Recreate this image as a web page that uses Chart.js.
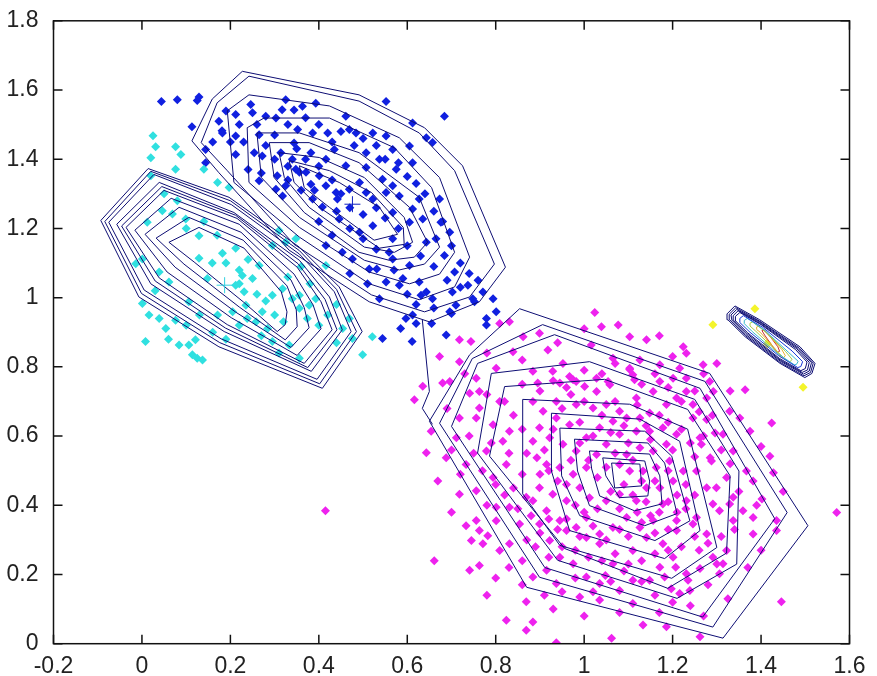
<!DOCTYPE html>
<html><head><meta charset="utf-8">
<script src="https://cdn.jsdelivr.net/npm/chart.js@4.4.0/dist/chart.umd.min.js"></script>
<style>html,body{margin:0;padding:0;background:#fff;overflow:hidden}canvas{display:block}</style>
</head><body>
<canvas id="c" width="877" height="676"></canvas>
<script>
const xTickValues = [-0.2,0,0.2,0.4,0.6,0.8,1,1.2,1.4,1.6];
const xTickLabels = ['-0.2','0','0.2','0.4','0.6','0.8','1','1.2','1.4','1.6'];
const yTickValues = [0,0.2,0.4,0.6,0.8,1,1.2,1.4,1.6,1.8];
const yTickLabels = ['0','0.2','0.4','0.6','0.8','1','1.2','1.4','1.6','1.8'];

const cyanPts = [[0.025,1.468],[0.031,1.436],[0.020,1.404],[0.076,1.436],[0.088,1.414],[0.076,1.371],[0.020,1.352],[0.140,1.371],[0.171,1.333],[0.197,1.318],[0.046,1.251],[0.012,1.218],[0.069,1.242],[0.129,1.114],[0.182,1.128],[0.212,1.143],[0.159,1.100],[0.148,1.055],[0.220,1.040],[0.231,1.017],[0.235,0.978],[0.205,0.959],[0.238,0.940],[0.258,0.930],[0.272,0.959],[0.284,0.911],[0.295,1.007],[0.250,1.055],[0.265,1.093],[0.340,0.997],[0.356,0.969],[0.374,0.940],[0.393,0.997],[0.416,1.093],[0.454,0.911],[0.476,0.882],[0.469,0.940],[0.356,0.825],[0.333,0.863],[0.295,0.873],[0.001,0.983],[0.016,0.950],[0.039,0.940],[0.054,0.911],[0.008,0.873],[0.084,0.863],[0.106,0.863],[0.121,0.878],[0.114,0.835],[0.137,0.820],[0.125,0.825],[0.076,0.935],[0.295,1.151],[0.325,1.160],[0.348,1.170],[0.039,1.074],[0.061,1.045],[0.106,0.988],[0.171,0.950],[-0.014,1.098],[0.001,1.112],[0.129,1.179],[0.099,1.227],[0.227,1.064],[0.318,1.026],[0.356,1.007],[0.378,0.978],[0.521,0.887],[0.499,0.835],[0.310,1.194],[0.212,1.036],
[0.05,1.30],[0.08,1.28],[0.10,1.20],[0.14,1.22],[0.17,1.18],[0.19,1.10],[0.22,1.08],[0.24,1.11],[0.26,1.01],[0.28,0.99],[0.30,0.95],[0.32,0.93],[0.33,1.06],[0.36,1.09],[0.38,1.04],[0.40,0.92],[0.42,0.95],[0.44,0.98],[0.16,0.90],[0.19,0.88],[0.22,0.92],[0.13,0.95],[0.10,0.92],[0.06,0.88],[0.03,1.02],[0.44,0.87],[0.27,0.89],[0.31,0.84]];

const bluePts = [[0.044,1.567],[0.080,1.572],[0.125,1.570],[0.129,1.580],[0.113,1.494],[0.144,1.428],[0.144,1.390],[0.174,1.510],[0.190,1.539],[0.212,1.529],[0.246,1.558],[0.250,1.534],[0.212,1.467],[0.212,1.414],[0.181,1.482],[0.280,1.524],[0.303,1.519],[0.317,1.543],[0.325,1.572],[0.344,1.542],[0.182,1.476],[0.363,1.553],[0.393,1.562],[0.265,1.471],[0.254,1.419],[0.272,1.409],[0.265,1.338],[0.306,1.352],[0.314,1.419],[0.352,1.486],[0.386,1.476],[0.344,1.447],[0.382,1.419],[0.340,1.400],[0.348,1.371],[0.371,1.362],[0.382,1.328],[0.420,1.476],[0.435,1.428],[0.416,1.400],[0.461,1.381],[0.469,1.486],[0.484,1.476],[0.461,1.524],[0.507,1.419],[0.522,1.476],[0.537,1.400],[0.507,1.376],[0.492,1.333],[0.522,1.285],[0.439,1.304],[0.416,1.323],[0.469,1.313],[0.442,1.285],[0.408,1.262],[0.386,1.285],[0.318,1.294],[0.303,1.313],[0.325,1.323],[0.552,1.567],[0.612,1.505],[0.684,1.524],[0.643,1.462],[0.657,1.448],[0.605,1.438],[0.567,1.428],[0.552,1.467],[0.612,1.390],[0.575,1.371],[0.544,1.342],[0.567,1.323],[0.627,1.285],[0.635,1.227],[0.605,1.218],[0.665,1.170],[0.643,1.160],[0.567,1.246],[0.522,1.208],[0.492,1.189],[0.446,1.227],[0.416,1.151],[0.453,1.131],[0.476,1.112],[0.514,1.083],[0.552,1.045],[0.590,1.055],[0.627,1.045],[0.643,1.016],[0.657,0.997],[0.702,1.016],[0.710,0.978],[0.748,0.997],[0.771,1.016],[0.794,0.997],[0.801,0.959],[0.779,0.940],[0.696,0.959],[0.612,0.950],[0.597,0.940],[0.620,0.925],[0.688,0.892],[0.544,0.882],[0.582,1.036],[0.737,1.036],[0.684,1.122],[0.707,1.074],[0.356,1.362],[0.401,1.352],[0.507,1.304],[0.552,1.304],[0.582,1.294],[0.612,1.256],[0.567,1.170],[0.605,1.093],[0.567,1.112],[0.673,1.285],[0.752,0.988],[0.779,0.921],[0.700,0.954],[0.631,1.007],[0.537,0.997],[0.585,0.911],[0.559,1.131],[0.531,1.083],[0.676,1.218],[0.696,1.189],[0.611,0.873],[0.655,0.925],
[0.30,1.47],[0.33,1.50],[0.37,1.52],[0.40,1.50],[0.43,1.45],[0.45,1.48],[0.48,1.44],[0.50,1.46],[0.53,1.44],[0.55,1.40],[0.58,1.39],[0.60,1.35],[0.62,1.33],[0.64,1.30],[0.66,1.25],[0.68,1.22],[0.70,1.15],[0.72,1.10],[0.74,1.07],[0.76,1.05],[0.72,1.03],[0.69,1.05],[0.66,1.09],[0.63,1.12],[0.60,1.15],[0.58,1.20],[0.55,1.23],[0.53,1.26],[0.50,1.24],[0.47,1.26],[0.45,1.30],[0.43,1.34],[0.40,1.38],[0.37,1.40],[0.35,1.43],[0.33,1.38],[0.30,1.40],[0.28,1.44],[0.26,1.50],[0.23,1.45],[0.24,1.37],[0.27,1.36],[0.33,1.34],[0.36,1.31],[0.39,1.31],[0.44,1.25],[0.47,1.20],[0.50,1.17],[0.53,1.14],[0.57,1.08],[0.60,1.01],[0.62,0.98],[0.66,0.97],[0.51,1.04],[0.47,1.07],[0.43,1.18],[0.40,1.22],[0.20,1.45],[0.22,1.50],[0.16,1.45]];

const magentaPts = [[1.024,0.957],[1.039,0.916],[1.077,0.921],[1.103,0.887],[1.141,0.878],[0.809,0.925],[0.831,0.930],[0.718,0.878],[0.744,0.873],[0.899,0.897],[0.918,0.849],[0.862,0.887],[1.224,0.858],[1.231,0.839],[1.269,0.806],[1.126,0.820],[1.103,0.796],[1.110,0.777],[0.952,0.810],[0.967,0.772],[0.982,0.758],[1.016,0.863],[1.054,0.758],[0.673,0.830],[0.680,0.753],[0.696,0.758],[0.635,0.744],[0.616,0.705],[0.718,0.815],[0.763,0.729],[0.741,0.724],[0.718,0.652],[0.756,0.652],[0.654,0.614],[0.643,0.552],[0.669,0.470],[0.718,0.432],[0.733,0.341],[0.745,0.298],[0.763,0.327],[0.782,0.312],[0.801,0.355],[0.661,0.240],[0.741,0.212],[0.763,0.226],[0.869,0.121],[0.824,0.068],[0.884,0.063],[0.869,0.039],[0.937,0.003],[1.062,0.016],[1.133,0.054],[1.186,0.049],[1.262,0.020],[1.325,0.130],[1.446,0.121],[1.571,0.379],[1.364,0.734],[1.424,0.638],[1.420,0.542],[1.428,0.494],[1.402,0.418],[1.435,0.356],[1.435,0.327],[1.382,0.317],[1.337,0.356],[1.359,0.384],[1.329,0.404],[1.299,0.451],[1.367,0.499],[1.382,0.470],[1.337,0.557],[1.314,0.605],[1.292,0.729],[1.277,0.710],[1.246,0.652],[1.209,0.710],[1.231,0.767],
[1.207,0.221],[1.262,0.217],[1.314,0.231],[1.148,0.183],[1.182,0.193],[1.235,0.183],[1.197,0.159],[1.216,0.145],[1.110,0.116],[1.048,0.197],
[0.895,0.753],[0.945,0.753],[0.975,0.763],[1.001,0.743],[1.028,0.729],[1.058,0.748],[1.103,0.792],[1.114,0.763],[1.148,0.667],[1.186,0.691],[1.216,0.796],[1.231,0.729],[1.246,0.691],[1.284,0.758],[1.277,0.648],[1.296,0.609],[1.265,0.576],[1.288,0.528],[1.254,0.499],[1.277,0.451],[1.231,0.413],[1.254,0.365],[1.209,0.356],[1.178,0.404],[1.156,0.356],[1.126,0.336],[1.096,0.365],[1.065,0.336],[1.035,0.317],[1.005,0.365],[0.982,0.336],[0.945,0.356],[0.915,0.384],[0.884,0.413],[0.899,0.451],[0.929,0.432],[0.960,0.413],[0.990,0.451],[1.012,0.422],[1.050,0.413],[1.080,0.432],[1.118,0.413],[1.141,0.451],[1.171,0.451],[1.201,0.470],[1.224,0.499],[1.193,0.528],[1.163,0.509],[1.133,0.499],[1.103,0.499],[1.080,0.518],[1.096,0.547],[1.126,0.566],[1.156,0.557],[1.186,0.576],[1.209,0.605],[1.178,0.624],[1.148,0.614],[1.118,0.614],[1.080,0.605],[1.050,0.576],[1.028,0.547],[1.005,0.509],[0.975,0.490],[0.945,0.509],[0.915,0.518],[0.893,0.537],[0.884,0.585],[0.899,0.624],[0.922,0.595],[0.952,0.576],[0.982,0.557],[1.005,0.595],[1.035,0.624],[1.065,0.643],[1.096,0.652],[1.126,0.652],[0.967,0.633],[0.937,0.652],[0.907,0.672],[0.884,0.700],[0.937,0.700],[0.982,0.691],[1.020,0.681],[1.050,0.691],[1.080,0.672],[1.028,0.767],[1.118,0.710],[1.171,0.758],[1.277,0.317],[1.291,0.404],
[0.801,0.394],[0.831,0.394],[0.854,0.346],[0.831,0.289],[0.756,0.356],[0.771,0.289],[0.809,0.269],[0.899,0.346],[0.922,0.298],[0.945,0.250],[0.975,0.231],[1.005,0.193],[1.035,0.174],[0.937,0.174],[0.915,0.212],[0.884,0.193],[0.990,0.135],[1.035,0.126],[1.080,0.154],[1.110,0.183],[1.171,0.221],[1.201,0.250],[1.231,0.202],[1.239,0.154],[1.291,0.250],[1.322,0.269],[1.306,0.202],[1.065,0.231],[1.110,0.269],[1.141,0.307],[1.178,0.289],[1.209,0.327],[1.246,0.346],[1.035,0.289],[1.005,0.307],[0.960,0.327],[0.869,0.423],[0.756,0.442],[0.794,0.480],[0.824,0.518],[0.779,0.557],[0.816,0.585],[0.794,0.633],[0.831,0.614],[0.763,0.681],[0.809,0.700],[0.733,0.518],[0.711,0.595],[0.688,0.537],[0.756,0.767],[0.801,0.796],[0.839,0.844],[0.884,0.787],[0.929,0.787],[1.065,0.825],[1.171,0.806],[1.201,0.767],[1.156,0.729],[1.262,0.595],[1.285,0.537],[1.322,0.480],[1.337,0.423],[1.306,0.384],[1.382,0.365],[1.352,0.652],[1.375,0.614],[1.329,0.672],[0.415,0.384],
[0.86,0.62],[0.87,0.55],[0.86,0.49],[0.90,0.49],[0.91,0.56],[0.93,0.62],[0.95,0.68],[0.97,0.72],[0.99,0.64],[1.00,0.70],[1.02,0.60],[1.04,0.66],[1.06,0.61],[1.07,0.70],[1.09,0.63],[1.10,0.58],[1.12,0.69],[1.14,0.63],[1.15,0.59],[1.17,0.66],[1.19,0.64],[1.20,0.56],[1.22,0.62],[1.24,0.58],[1.25,0.54],[1.27,0.60],[1.23,0.46],[1.25,0.43],[1.21,0.43],[1.19,0.50],[1.16,0.47],[1.13,0.47],[1.11,0.53],[1.07,0.55],[1.05,0.51],[1.03,0.48],[1.01,0.53],[0.99,0.58],[0.97,0.53],[0.96,0.46],[0.94,0.47],[0.92,0.50],[0.98,0.40],[1.00,0.38],[1.03,0.39],[1.06,0.44],[1.08,0.39],[1.09,0.46],[1.11,0.43],[1.12,0.38],[1.14,0.41],[1.15,0.37],[1.17,0.38],[1.19,0.41],[1.21,0.38],[1.23,0.39],[1.19,0.33],[1.16,0.32],[1.13,0.35],[1.10,0.31],[1.08,0.33],[1.05,0.30],[1.02,0.34],[0.99,0.31],[0.96,0.36],[0.94,0.33],[0.92,0.36],[0.90,0.32],[0.88,0.37],[0.87,0.30],[0.85,0.39],[0.84,0.45],[0.82,0.43],[0.80,0.46],[0.78,0.40],[0.77,0.50],[0.75,0.55],[0.79,0.58],[0.83,0.55],[0.84,0.66],[0.82,0.70],[0.78,0.72],[0.86,0.75],[0.90,0.73],[0.93,0.76],[0.96,0.74],[1.00,0.79],[1.04,0.78],[1.07,0.81],[1.13,0.75],[1.16,0.78],[1.19,0.74],[1.22,0.70],[1.25,0.73],[1.26,0.67],[1.29,0.66],[1.31,0.56],[1.33,0.52],[1.35,0.44],[1.34,0.33],[1.31,0.31],[1.28,0.29],[1.26,0.27],[1.25,0.31],[1.22,0.28],[1.19,0.27],[1.16,0.26],[1.13,0.24],[1.10,0.23],[1.07,0.26],[1.04,0.24],[1.01,0.25],[0.98,0.27],[0.95,0.28],[0.92,0.25],[0.89,0.28],[0.86,0.24],[0.83,0.22],[0.80,0.19],[0.86,0.17],[0.91,0.14],[0.95,0.15],[0.98,0.19],[1.02,0.15],[1.06,0.18],[1.09,0.21],[1.13,0.18],[1.16,0.14],[1.20,0.12],[1.24,0.11],[1.28,0.17],[1.30,0.23],[1.27,0.08],[1.17,0.09],[1.08,0.09],[1.00,0.08],[0.93,0.10],[0.78,0.14],[0.70,0.38],[0.72,0.49],[0.70,0.56],[0.74,0.60],[0.69,0.68],[0.73,0.78],[0.78,0.84],[0.86,0.82],[0.94,0.87],[1.00,0.91],[1.17,0.89],[1.20,0.83],[1.27,0.78],[1.33,0.73],[1.30,0.81],[1.40,0.57],[1.39,0.40],[1.40,0.27],[1.37,0.22],[1.45,0.44]];

const yellowPts = [[1.291,0.922],[1.386,0.968],[1.495,0.741],[1.414,0.867]];

const cyanCentre = [[0.187,1.036]];
const blueCentre = [[0.476,1.270]];

const blueContours = [
 [[0.227,1.654],[0.491,1.586],[0.639,1.491],[0.725,1.381],[0.822,1.088],[0.763,0.988],[0.650,0.930],[0.514,0.988],[0.333,1.137],[0.174,1.361],[0.113,1.453],[0.159,1.574]],
 [[0.242,1.640],[0.491,1.568],[0.627,1.476],[0.707,1.367],[0.797,1.097],[0.741,1.002],[0.639,0.959],[0.519,1.008],[0.344,1.154],[0.193,1.367],[0.134,1.448],[0.170,1.563]],
 [[0.193,1.540],[0.242,1.586],[0.424,1.554],[0.582,1.462],[0.673,1.347],[0.741,1.117],[0.707,1.031],[0.627,0.994],[0.514,1.040],[0.356,1.175],[0.208,1.333]],
 [[0.238,1.491],[0.276,1.519],[0.424,1.519],[0.571,1.433],[0.655,1.318],[0.707,1.131],[0.673,1.068],[0.605,1.040],[0.514,1.074],[0.356,1.203],[0.242,1.333]],
 [[0.260,1.476],[0.356,1.476],[0.491,1.419],[0.627,1.290],[0.673,1.146],[0.639,1.097],[0.582,1.080],[0.503,1.108],[0.356,1.232],[0.270,1.347]],
 [[0.288,1.448],[0.378,1.448],[0.491,1.390],[0.605,1.261],[0.646,1.160],[0.616,1.117],[0.559,1.108],[0.491,1.131],[0.367,1.246],[0.299,1.347]],
 [[0.310,1.419],[0.401,1.405],[0.503,1.347],[0.593,1.232],[0.612,1.160],[0.571,1.131],[0.503,1.146],[0.378,1.261],[0.322,1.347]],
 [[0.333,1.396],[0.424,1.367],[0.519,1.304],[0.591,1.203],[0.593,1.154],[0.537,1.143],[0.401,1.261],[0.344,1.333]],
 [[0.356,1.381],[0.446,1.333],[0.537,1.261],[0.578,1.183],[0.525,1.166],[0.424,1.261],[0.367,1.318]]
];

const cyanContours = [
 [[0.014,1.373],[0.197,1.290],[0.356,1.146],[0.446,1.031],[0.498,0.902],[0.408,0.738],[0.174,0.858],[-0.007,1.002],[-0.093,1.223]],
 [[0.020,1.365],[0.200,1.280],[0.356,1.136],[0.440,1.024],[0.485,0.902],[0.402,0.751],[0.176,0.870],[-0.001,1.012],[-0.084,1.220]],
 [[0.027,1.356],[0.202,1.269],[0.356,1.126],[0.435,1.017],[0.473,0.902],[0.396,0.764],[0.179,0.881],[0.005,1.022],[-0.075,1.218]],
 [[0.039,1.333],[0.208,1.246],[0.356,1.108],[0.424,1.002],[0.453,0.907],[0.383,0.787],[0.186,0.902],[0.020,1.040],[-0.057,1.212]],
 [[0.045,1.321],[0.212,1.238],[0.353,1.098],[0.414,0.995],[0.441,0.907],[0.375,0.798],[0.189,0.912],[0.030,1.048],[-0.046,1.207]],
 [[0.050,1.310],[0.215,1.229],[0.351,1.088],[0.405,0.988],[0.430,0.907],[0.367,0.810],[0.193,0.922],[0.039,1.057],[-0.036,1.203]],
 [[0.066,1.287],[0.220,1.212],[0.344,1.068],[0.387,0.979],[0.405,0.910],[0.351,0.833],[0.202,0.942],[0.057,1.074],[-0.016,1.195]],
 [[0.084,1.261],[0.224,1.189],[0.337,1.051],[0.367,0.971],[0.378,0.913],[0.337,0.856],[0.211,0.959],[0.075,1.088],[0.007,1.183]],
 [[0.106,1.232],[0.229,1.166],[0.328,1.034],[0.349,0.965],[0.351,0.916],[0.324,0.878],[0.220,0.973],[0.095,1.097],[0.032,1.172]],
 [[0.129,1.203],[0.231,1.143],[0.315,1.017],[0.328,0.959],[0.324,0.922],[0.306,0.902],[0.229,0.988],[0.118,1.103],[0.061,1.160]]
];

const magentaContours = [
 [[0.854,0.968],[1.284,0.781],[1.506,0.341],[1.314,0.016],[0.870,0.163],[0.650,0.643],[0.741,0.835]],
 [[0.906,0.922],[1.273,0.758],[1.459,0.379],[1.291,0.048],[0.899,0.192],[0.673,0.637],[0.747,0.824]],
 [[0.933,0.893],[1.262,0.738],[1.431,0.361],[1.268,0.077],[0.911,0.220],[0.700,0.628],[0.759,0.810]],
 [[0.790,0.781],[1.012,0.815],[1.250,0.706],[1.350,0.499],[1.345,0.230],[1.210,0.131],[0.940,0.241],[0.759,0.551]],
 [[0.820,0.743],[1.046,0.764],[1.234,0.677],[1.330,0.485],[1.322,0.262],[1.189,0.160],[0.956,0.275],[0.786,0.542]],
 [[0.861,0.706],[1.103,0.692],[1.234,0.620],[1.300,0.278],[1.198,0.189],[0.945,0.284],[0.861,0.433]],
 [[0.926,0.666],[1.126,0.649],[1.216,0.585],[1.262,0.327],[1.182,0.246],[0.967,0.327],[0.926,0.499]],
 [[0.945,0.623],[1.137,0.614],[1.198,0.542],[1.239,0.355],[1.160,0.298],[0.990,0.370],[0.949,0.485]],
 [[0.978,0.591],[1.144,0.580],[1.182,0.522],[1.210,0.376],[1.137,0.341],[1.012,0.399],[0.985,0.499]],
 [[1.012,0.557],[1.148,0.548],[1.171,0.485],[1.176,0.404],[1.114,0.384],[1.035,0.427],[1.017,0.505]],
 [[1.042,0.537],[1.137,0.528],[1.148,0.470],[1.144,0.427],[1.080,0.422],[1.049,0.485]],
 [[1.062,0.522],[1.126,0.519],[1.130,0.456],[1.069,0.450]]
];
const bridgeContour = [[0.634,0.936],[0.650,0.729],[0.634,0.680],[0.657,0.634]];

const yellowContours = [
 [[1.323,0.953],[1.341,0.976],[1.397,0.936],[1.488,0.858],[1.522,0.810],[1.515,0.781],[1.499,0.769],[1.443,0.810],[1.364,0.887],[1.325,0.936]],
 [[1.328,0.952],[1.343,0.971],[1.397,0.932],[1.486,0.855],[1.518,0.811],[1.512,0.784],[1.497,0.774],[1.443,0.813],[1.365,0.890],[1.329,0.936]],
 [[1.332,0.950],[1.345,0.966],[1.398,0.929],[1.484,0.853],[1.514,0.812],[1.509,0.788],[1.496,0.779],[1.443,0.817],[1.366,0.893],[1.334,0.935]],
 [[1.337,0.948],[1.348,0.962],[1.399,0.925],[1.481,0.852],[1.509,0.813],[1.505,0.791],[1.493,0.784],[1.443,0.820],[1.368,0.896],[1.338,0.934]],
 [[1.342,0.946],[1.352,0.957],[1.400,0.922],[1.478,0.850],[1.504,0.814],[1.500,0.795],[1.490,0.789],[1.442,0.824],[1.370,0.898],[1.343,0.932]],
 [[1.352,0.940],[1.360,0.948],[1.404,0.914],[1.470,0.846],[1.494,0.815],[1.490,0.801],[1.483,0.798],[1.440,0.832],[1.375,0.900],[1.352,0.928]],
 [[1.362,0.934],[1.369,0.940],[1.408,0.906],[1.462,0.842],[1.484,0.816],[1.480,0.807],[1.475,0.806],[1.438,0.838],[1.380,0.902],[1.362,0.925]],
 [[1.375,0.926],[1.381,0.930],[1.413,0.898],[1.455,0.845],[1.470,0.822],[1.466,0.815],[1.461,0.815],[1.435,0.846],[1.388,0.903],[1.375,0.918]],
 [[1.390,0.915],[1.395,0.918],[1.418,0.891],[1.447,0.850],[1.455,0.832],[1.450,0.826],[1.445,0.827],[1.432,0.852],[1.398,0.900],[1.390,0.908]],
 [[1.402,0.905],[1.407,0.907],[1.422,0.885],[1.438,0.858],[1.442,0.845],[1.437,0.842],[1.430,0.852],[1.408,0.892]]
];

const NAVY = '#0d0d73';
const yellowContourColours = [NAVY, NAVY, NAVY, NAVY, NAVY, '#1838d8', '#38b8cc', '#a8cc48', '#e8b030', '#c83030'];

function toXY(arr){ return arr.map(p => ({x:p[0], y:p[1]})); }
function closedXY(arr){ return toXY(arr.concat([arr[0]])); }

const datasets = [];
function addPoints(arr, colour){
  datasets.push({data: toXY(arr), showLine:false, pointStyle:'rectRot', pointRadius:4.5, pointHoverRadius:4.5,
    pointBackgroundColor: colour, pointBorderColor: colour, pointBorderWidth:0, order:3});
}
function addLine(arr, colour, closed){
  datasets.push({data: closed ? closedXY(arr) : toXY(arr), showLine:true, borderColor: colour, borderWidth:1,
    pointRadius:0, pointHoverRadius:0, fill:false, tension:0, order:2});
}
addPoints(magentaPts, '#ee22ee');
addPoints(cyanPts, '#30e0e0');
addPoints(bluePts, '#1020e0');
addPoints(yellowPts, '#f4f42a');
cyanContours.forEach(c => addLine(c, NAVY, true));
blueContours.forEach(c => addLine(c, NAVY, true));
magentaContours.forEach(c => addLine(c, NAVY, true));
addLine(bridgeContour, NAVY, false);
yellowContours.forEach((c, i) => addLine(c, yellowContourColours[i], true));
datasets.push({data: toXY(cyanCentre), showLine:false, pointStyle:'cross', pointRadius:8, pointBorderColor:'#30d0e0', pointBorderWidth:1, order:1});
datasets.push({data: toXY(blueCentre), showLine:false, pointStyle:'cross', pointRadius:8, pointBorderColor:'#1020c0', pointBorderWidth:1, order:1});

const framePlugin = {
  id: 'frame',
  afterDraw(chart){
    const {ctx, chartArea: a, scales: {x, y}} = chart;
    ctx.save();
    ctx.strokeStyle = '#111'; ctx.lineWidth = 1.5;
    ctx.strokeRect(a.left, a.top, a.right - a.left, a.bottom - a.top);
    ctx.beginPath();
    const L = 9;
    xTickValues.forEach(v => { const px = x.getPixelForValue(v);
      ctx.moveTo(px, a.bottom); ctx.lineTo(px, a.bottom - L);
      ctx.moveTo(px, a.top); ctx.lineTo(px, a.top + L); });
    yTickValues.forEach(v => { const py = y.getPixelForValue(v);
      ctx.moveTo(a.left, py); ctx.lineTo(a.left + L, py);
      ctx.moveTo(a.right, py); ctx.lineTo(a.right - L, py); });
    ctx.stroke();
    ctx.restore();
  }
};

const tickFont = {family: '"Liberation Sans", Arial, sans-serif', size: 23};
new Chart(document.getElementById('c'), {
  type: 'scatter',
  data: {datasets},
  options: {
    responsive: false, animation: false, devicePixelRatio: 1, events: [],
    layout: {padding: {top: 17.3, right: 27.5, left: 0, bottom: 0}},
    plugins: {legend: {display: false}, tooltip: {enabled: false}},
    scales: {
      x: {type: 'linear', position: 'bottom', min: -0.2, max: 1.6,
        grid: {display: false}, border: {display: false},
        afterBuildTicks(s){ s.ticks = xTickValues.map(v => ({value: v})); },
        ticks: {font: tickFont, color: '#222', padding: 1, maxRotation: 0, autoSkip: false,
          callback: (v, i) => xTickLabels[i]},
        afterFit(s){ s.height = 32.3; }},
      y: {type: 'linear', position: 'left', min: 0, max: 1.8,
        grid: {display: false}, border: {display: false},
        afterBuildTicks(s){ s.ticks = yTickValues.map(v => ({value: v})); },
        ticks: {font: tickFont, color: '#222', padding: 7, autoSkip: false,
          callback: (v, i) => yTickLabels[i]},
        afterFit(s){ s.width = 53.5; }}
    }
  },
  plugins: [framePlugin]
});
</script>
</body></html>
